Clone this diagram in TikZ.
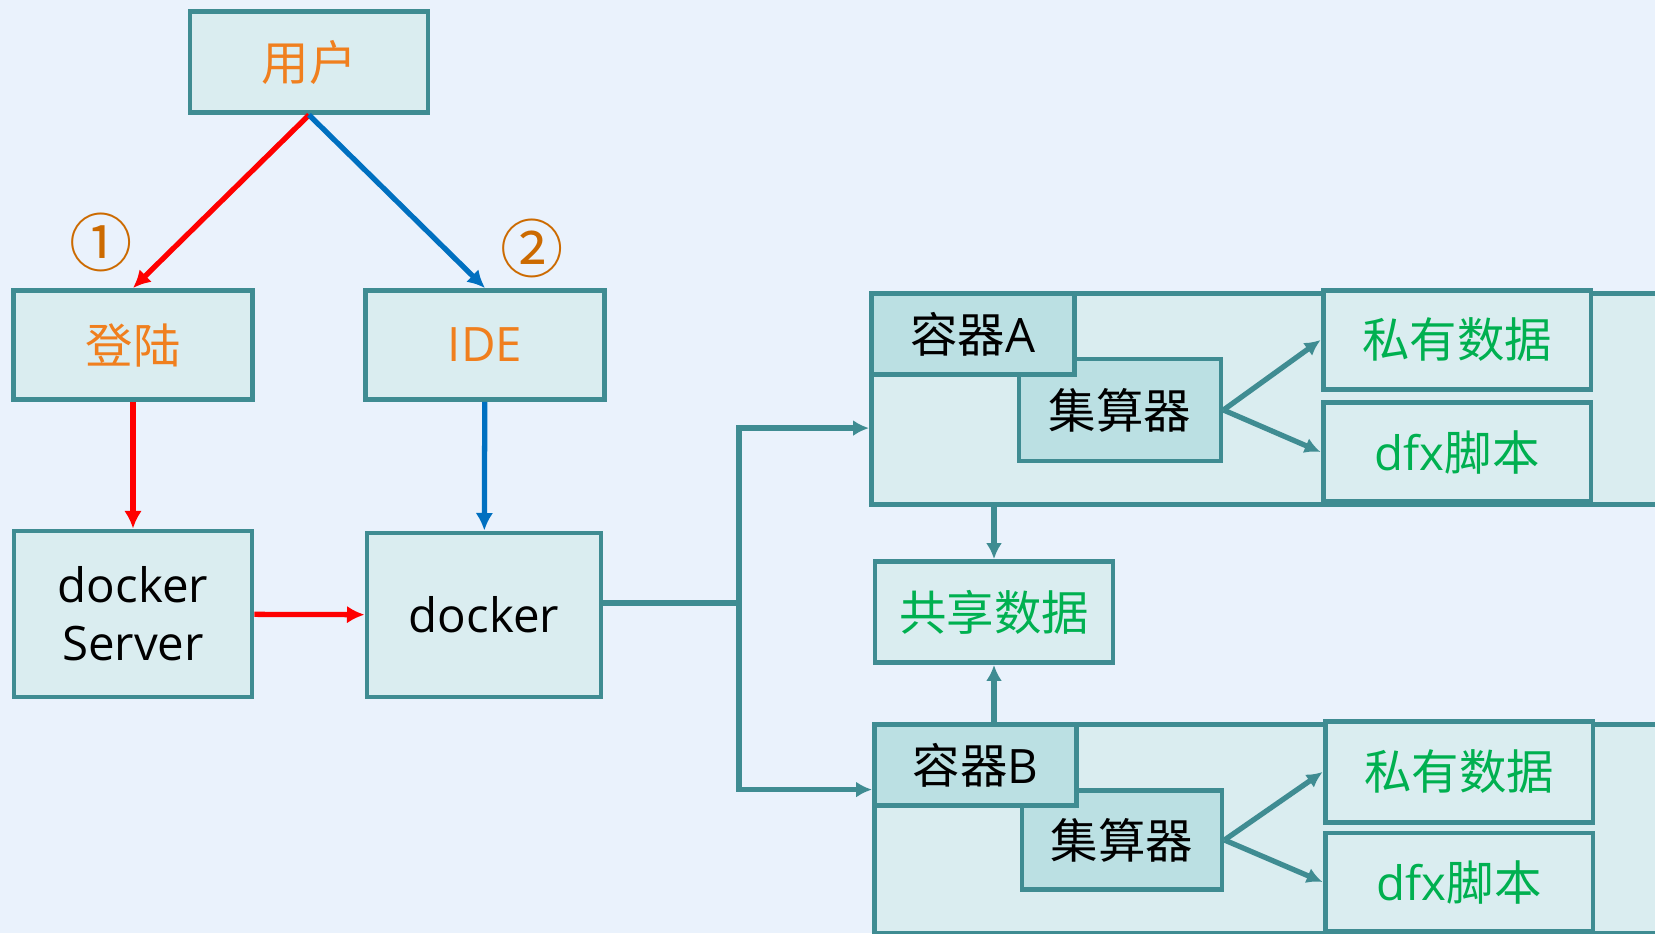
\documentclass[tikz,border=0pt]{standalone}
\usepackage{fontspec}
\setmainfont{Open Sans}
\newfontfamily\cjk{Noto Sans CJK SC}
\usetikzlibrary{positioning, arrows.meta, calc}

\definecolor{bgblue}{HTML}{EAF2FC}
\definecolor{boxfill}{HTML}{DAEDF0}
\definecolor{tagfill}{HTML}{BBE0E3}
\definecolor{edgeteal}{HTML}{3F8C92}
\definecolor{txtorange}{HTML}{F07F1E}
\definecolor{numorange}{HTML}{CC6A00}
\definecolor{txtgreen}{HTML}{00B050}
\definecolor{arrred}{HTML}{FF0000}
\definecolor{arrblue}{HTML}{0070C0}

\begin{document}
\begin{tikzpicture}[x=0.02cm, y=-0.02cm,
		box/.style={draw=edgeteal, line width=2.8pt, fill=boxfill, inner sep=0pt, align=center, font=\fontsize{27}{33}\selectfont},
		tag/.style={box, fill=tagfill},
		num/.style={font=\cjk\fontsize{36}{36}\selectfont, text=numorange, inner sep=0pt},
		redarrow/.style={arrred, line width=3pt, -{Latex[length=10pt, width=10pt]}},
		bluearrow/.style={arrblue, line width=3pt, -{Latex[length=10pt, width=10pt]}},
		tealarrow/.style={edgeteal, line width=3pt, -{Latex[length=9pt, width=9pt]}}]
			\fill[bgblue] (0,0) rectangle (1655,933);
			\useasboundingbox (0,0) rectangle (1655,933);
			\clip (0,0) rectangle (1655,933);

			\node[box, minimum width=4.76cm, minimum height=2.02cm, text=txtorange] (user) at (309,62) {\cjk 用户};
			\node[box, minimum width=4.78cm, minimum height=2.18cm, text=txtorange] (login) at (133,345) {\cjk 登陆};
			\node[box, minimum width=4.78cm, minimum height=2.18cm, text=txtorange] (ide) at (485,345) {IDE};
			\node[num] (one) at (101,242) {①};
			\node[num] (two) at (532,248) {②};
			\node[box, minimum width=4.76cm, minimum height=3.32cm] (server) at (133,614) {docker\\Server};
			\node[box, minimum width=4.68cm, minimum height=3.28cm] (docker) at (484,615) {docker};

			\node[box, anchor=north west, minimum width=16.62cm, minimum height=4.22cm] (contA) at (869,291) {};
			\node[tag, minimum width=4.04cm, minimum height=2.04cm] (calcA) at (1120,410) {\cjk 集算器};
			\node[tag, anchor=north west, minimum width=4.06cm, minimum height=1.62cm] (tagA) at (869,291) {{\cjk 容器}A};
			\node[box, minimum width=5.36cm, minimum height=1.98cm, text=txtgreen] (privA) at (1457,340) {\cjk 私有数据};
			\node[box, minimum width=5.36cm, minimum height=1.98cm, text=txtgreen] (dfxA) at (1457,452) {dfx{\cjk 脚本}};

			\node[box, minimum width=4.76cm, minimum height=2.02cm, text=txtgreen] (share) at (994,612) {\cjk 共享数据};

			\node[box, anchor=north west, minimum width=16.56cm, minimum height=4.18cm] (contB) at (872,722) {};
			\node[tag, minimum width=4.0cm, minimum height=1.98cm] (calcB) at (1122,840) {\cjk 集算器};
			\node[tag, anchor=north west, minimum width=4.04cm, minimum height=1.62cm] (tagB) at (872,722) {{\cjk 容器}B};
			\node[box, minimum width=5.36cm, minimum height=2.02cm, text=txtgreen] (privB) at (1459,772) {\cjk 私有数据};
			\node[box, minimum width=5.36cm, minimum height=1.96cm, text=txtgreen] (dfxB) at (1459,882) {dfx{\cjk 脚本}};

			\coordinate (fork) at (739,603);
			\draw
			(user.south) edge[redarrow] (login.north)
			(user.south) edge[bluearrow] (ide.north)
			(login) edge[redarrow] (server)
			(ide) edge[bluearrow] (docker)
			(server) edge[redarrow] (docker)
			(calcA.east) edge[tealarrow] (privA.west)
			(calcA.east) edge[tealarrow] (dfxA.west)
			(calcB.east) edge[tealarrow] (privB.west)
			(calcB.east) edge[tealarrow] (dfxB.west)
			(share.north |- contA.south) edge[tealarrow] (share.north)
			(share.south |- contB.north) edge[tealarrow] (share.south);
			\draw[edgeteal, line width=3pt] (docker.east |- fork) -- (fork);
			\draw[tealarrow] (fork) |- ($(contA.north west)!0.635!(contA.south west)$);
			\draw[tealarrow] (fork) |- ($(contB.north west)!0.316!(contB.south west)$);
		\end{tikzpicture}
\end{document}
